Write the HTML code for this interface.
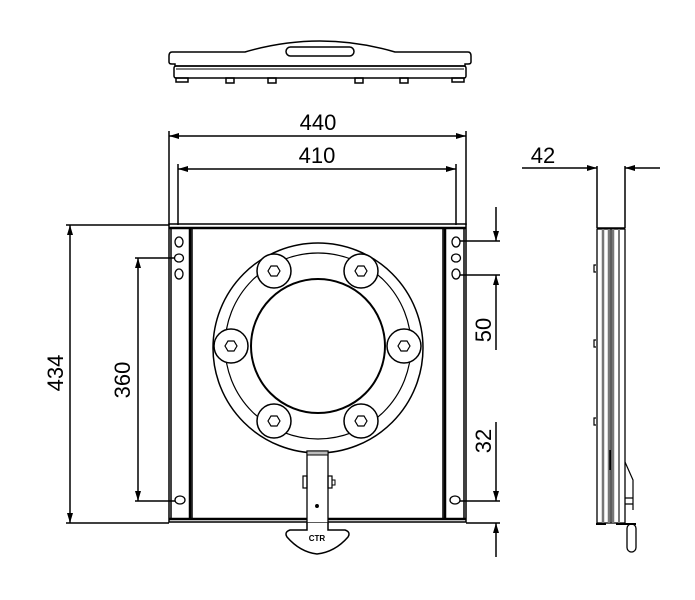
<!DOCTYPE html>
<html><head><meta charset="utf-8"><style>html,body{margin:0;padding:0;background:#fff}svg{display:block}</style></head>
<body>
<svg width="695" height="600" viewBox="0 0 695 600" xmlns="http://www.w3.org/2000/svg" font-family="Liberation Sans, sans-serif">
<defs>
<marker id="a" viewBox="0 0 10 6" refX="10" refY="3" markerWidth="10" markerHeight="6" orient="auto-start-reverse" markerUnits="userSpaceOnUse"><path d="M0,0 L10,3 L0,6 z" fill="#000"/></marker>
</defs>
<g fill="none" stroke="#000" stroke-width="1.5">
<!-- top view -->
<path d="M172,52 L245,52 Q320,30 395,52 L468,52 Q471,52 471,56 L471,62 Q471,64 468,64 L465,64 L465,66 L175,66 L175,64 L172,64 Q169,64 169,62 L169,56 Q169,52 172,52 Z"/>
<rect x="286" y="47" width="68" height="9" rx="4.5"/>
<rect x="174" y="66" width="292" height="12" rx="2"/>
<line x1="176" y1="69" x2="464" y2="69" stroke-width="1"/>
<rect x="176" y="78" width="12" height="4"/><rect x="452" y="78" width="12" height="4"/>
<rect x="226" y="78" width="8" height="5"/><rect x="268" y="78" width="8" height="5"/><rect x="355" y="78" width="8" height="5"/><rect x="400" y="78" width="8" height="5"/>
<!-- dims top -->
<line x1="169" y1="131" x2="169" y2="225"/><line x1="466" y1="131" x2="466" y2="225"/>
<line x1="178" y1="164" x2="178" y2="225"/><line x1="456" y1="164" x2="456" y2="225"/>
<line x1="169" y1="136" x2="466" y2="136" marker-start="url(#a)" marker-end="url(#a)"/>
<line x1="178" y1="169" x2="456" y2="169" marker-start="url(#a)" marker-end="url(#a)"/>
<!-- plate -->
<rect x="169" y="224" width="297" height="298" stroke-width="1.5"/>
<line x1="169" y1="228" x2="466" y2="228" stroke-width="2.5"/>
<line x1="169" y1="519" x2="466" y2="519" stroke-width="2.5"/>
<rect x="171" y="228" width="21" height="291"/>
<line x1="190" y1="228" x2="190" y2="519" stroke-width="2.5"/>
<rect x="443" y="228" width="21" height="291"/>
<line x1="445" y1="228" x2="445" y2="519" stroke-width="2.5"/>
<g stroke-width="1.3">
<ellipse cx="179" cy="242" rx="4" ry="5"/><ellipse cx="179" cy="258" rx="4.5" ry="4"/><ellipse cx="179" cy="274" rx="4" ry="5"/><ellipse cx="180" cy="500" rx="5" ry="4"/>
<ellipse cx="456" cy="242" rx="4" ry="5"/><ellipse cx="456" cy="258" rx="4.5" ry="4"/><ellipse cx="456" cy="274" rx="4" ry="5"/><ellipse cx="455" cy="500" rx="5" ry="4"/>
</g>
<!-- left dims -->
<line x1="66" y1="225" x2="169" y2="225"/><line x1="66" y1="523" x2="169" y2="523"/>
<line x1="70" y1="225" x2="70" y2="523" marker-start="url(#a)" marker-end="url(#a)"/>
<line x1="135" y1="258" x2="175" y2="258"/><line x1="135" y1="501" x2="175" y2="501"/>
<line x1="138" y1="258" x2="138" y2="501" marker-start="url(#a)" marker-end="url(#a)"/>
<!-- right dims -->
<line x1="460" y1="241" x2="500" y2="241"/><line x1="460" y1="275" x2="500" y2="275"/>
<line x1="496" y1="207" x2="496" y2="241" marker-end="url(#a)"/>
<line x1="496" y1="350" x2="496" y2="275" marker-end="url(#a)"/>
<line x1="460" y1="501" x2="500" y2="501"/><line x1="466" y1="523" x2="500" y2="523"/>
<line x1="496" y1="422" x2="496" y2="501" marker-end="url(#a)"/>
<line x1="496" y1="557" x2="496" y2="523" marker-end="url(#a)"/>
<!-- ring -->
<circle cx="318" cy="348" r="105"/>
<circle cx="318" cy="346" r="93" stroke-width="1.2"/>
<circle cx="318" cy="346" r="67" stroke-width="2" fill="#fff"/>
<g fill="#fff">
<circle cx="274" cy="271" r="17"/><circle cx="361" cy="271" r="17"/>
<circle cx="231" cy="346" r="17"/><circle cx="404" cy="346" r="17"/>
<circle cx="274" cy="421" r="17"/><circle cx="361" cy="421" r="17"/>
</g>
<g stroke-width="1.2">
<polygon points="280,271 277,276 271,276 268,271 271,266 277,266"/>
<polygon points="367,271 364,276 358,276 355,271 358,266 364,266"/>
<polygon points="237,346 234,351 228,351 225,346 228,341 234,341"/>
<polygon points="410,346 407,351 401,351 398,346 401,341 407,341"/>
<polygon points="280,421 277,426 271,426 268,421 271,416 277,416"/>
<polygon points="367,421 364,426 358,426 355,421 358,416 364,416"/>
</g>
<!-- handle -->
<rect x="307" y="451" width="21" height="72" fill="#fff" stroke-width="1.3"/>
<rect x="307" y="451" width="21" height="4" fill="#bbb" stroke-width="1"/>
<rect x="303" y="476" width="4" height="12" stroke-width="1.2"/><rect x="328" y="476" width="4" height="12" stroke-width="1.2"/>
<rect x="332" y="480" width="3" height="5" stroke-width="1"/>
<circle cx="317" cy="506" r="1.2" fill="#000"/>
<path d="M307,523 L307,530 L290,530 Q284,532 287,537 Q300,552 317,554 Q335,552 348,537 Q351,532 345,530 L328,530 L328,523" stroke-width="1.5" fill="#fff"/>
<!-- side view -->
<line x1="522" y1="168" x2="597" y2="168" marker-end="url(#a)"/>
<line x1="660" y1="168" x2="625" y2="168" marker-end="url(#a)"/>
<line x1="597" y1="166" x2="597" y2="228"/><line x1="625" y1="166" x2="625" y2="228"/>
<line x1="597" y1="228" x2="625" y2="228"/>
<rect x="597" y="229" width="28" height="294" stroke-width="1.3"/>
<line x1="603" y1="229" x2="603" y2="523" stroke="#777" stroke-width="2.5"/>
<line x1="609" y1="229" x2="609" y2="523" stroke="#777" stroke-width="2.5"/>
<line x1="613" y1="229" x2="613" y2="523" stroke="#777" stroke-width="2.5"/>
<line x1="619" y1="229" x2="619" y2="523" stroke="#777" stroke-width="2"/>
<line x1="611" y1="229" x2="611" y2="523" stroke-width="1"/>
<path d="M596,265 h-2 v7 h2 M596,340 h-2 v7 h2 M596,418 h-2 v7 h2" stroke-width="1.2"/>
<line x1="610" y1="450" x2="610" y2="470" stroke-width="1.5"/>
<path d="M625,462 L633,480 L633,510 M625,498 h8 v6 h-8" stroke-width="1.2"/>
<path d="M596,524 h10 M616,524 h20" stroke-width="2"/>
<rect x="627" y="524" width="9" height="28" rx="4.5" stroke-width="1.3"/>
</g>
<g font-size="22" fill="#000">
<text x="318" y="130" text-anchor="middle">440</text>
<text x="317" y="163" text-anchor="middle">410</text>
<text x="543" y="163" text-anchor="middle">42</text>
<text transform="translate(63,373) rotate(-90)" text-anchor="middle">434</text>
<text transform="translate(130,380) rotate(-90)" text-anchor="middle">360</text>
<text transform="translate(491,330) rotate(-90)" text-anchor="middle">50</text>
<text transform="translate(491,441) rotate(-90)" text-anchor="middle">32</text>
</g>
<text x="317" y="541" font-size="8" font-weight="bold" text-anchor="middle">CTR</text>
</svg>
</body></html>
